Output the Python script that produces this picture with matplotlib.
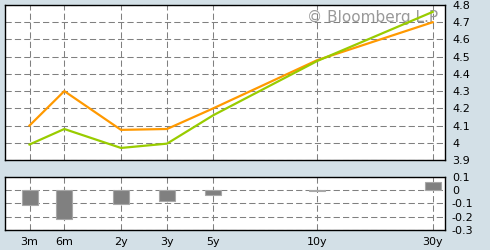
import matplotlib
matplotlib.use("Agg")
import matplotlib.pyplot as plt

# ---- data ----
tenors = ["3m", "6m", "2y", "3y", "5y", "10y", "30y"]
yield_orange = [4.10, 4.30, 4.075, 4.08, 4.20, 4.48, 4.70]
yield_green = [3.99, 4.08, 3.97, 3.995, 4.16, 4.475, 4.76]
spread = [g - o for g, o in zip(yield_green, yield_orange)]
top_ticks = [3.9, 4.0, 4.1, 4.2, 4.3, 4.4, 4.5, 4.6, 4.7, 4.8]
top_ticklabels = ["3.9", "4", "4.1", "4.2", "4.3", "4.4", "4.5", "4.6", "4.7", "4.8"]
bot_ticks = [0.1, 0.0, -0.1, -0.2, -0.3]
bot_ticklabels = ["0.1", "0", "-0.1", "-0.2", "-0.3"]

# custom Bloomberg-style maturity axis scale (axis units)
tenor_scale = {"3m": 24.5, "6m": 59.3, "2y": 116, "3y": 162, "5y": 208.3, "10y": 312.3, "30y": 427.7}
xs = [tenor_scale[t] for t in tenors]

bg = "#d3e0e7"
grid_kw = dict(color="#808080", linewidth=0.75, linestyle=(0, (6, 3)))

fig = plt.figure(figsize=(4.9, 2.5), dpi=100, facecolor=bg)
ax1 = fig.add_axes([5 / 490, 1 - 160 / 250, 440 / 490, 155 / 250])
ax2 = fig.add_axes([5 / 490, 1 - 230 / 250, 440 / 490, 53.3 / 250])

for ax in (ax1, ax2):
    ax.set_facecolor("white")
    ax.set_xlim(0, 440)
    ax.set_xticks(xs)
    ax.set_axisbelow(True)
    ax.grid(True, **grid_kw)
    for s in ax.spines.values():
        s.set_color("black")
        s.set_linewidth(1.0)
    ax.yaxis.tick_right()
    ax.tick_params(axis="both", length=0, labelsize=8, colors="black")
    ax.tick_params(axis="y", pad=5)

# top panel
ax1.plot(xs, yield_orange, color="#ff9900", linewidth=1.6, zorder=3)
ax1.plot(xs, yield_green, color="#99cc00", linewidth=1.6, zorder=3)
ax1.set_ylim(3.9, 4.8)
ax1.set_yticks(top_ticks)
ax1.set_yticklabels(top_ticklabels)
ax1.set_xticklabels([])
ax1.text(0.985, 0.92, "\u00a9 Bloomberg L.P", transform=ax1.transAxes,
         ha="right", va="center", fontsize=11, color="#999999", zorder=2)

# bottom panel
ax2.bar(xs, spread, width=16, color="#808080", edgecolor="#a8a8a8",
        linewidth=0.8, zorder=3)
ax2.set_ylim(-0.3, 0.1)
ax2.set_yticks(bot_ticks)
ax2.set_yticklabels(bot_ticklabels)
ax2.set_xticklabels(tenors)
ax2.tick_params(axis="x", pad=5)

fig.savefig("out.png", dpi=100, facecolor=bg)
